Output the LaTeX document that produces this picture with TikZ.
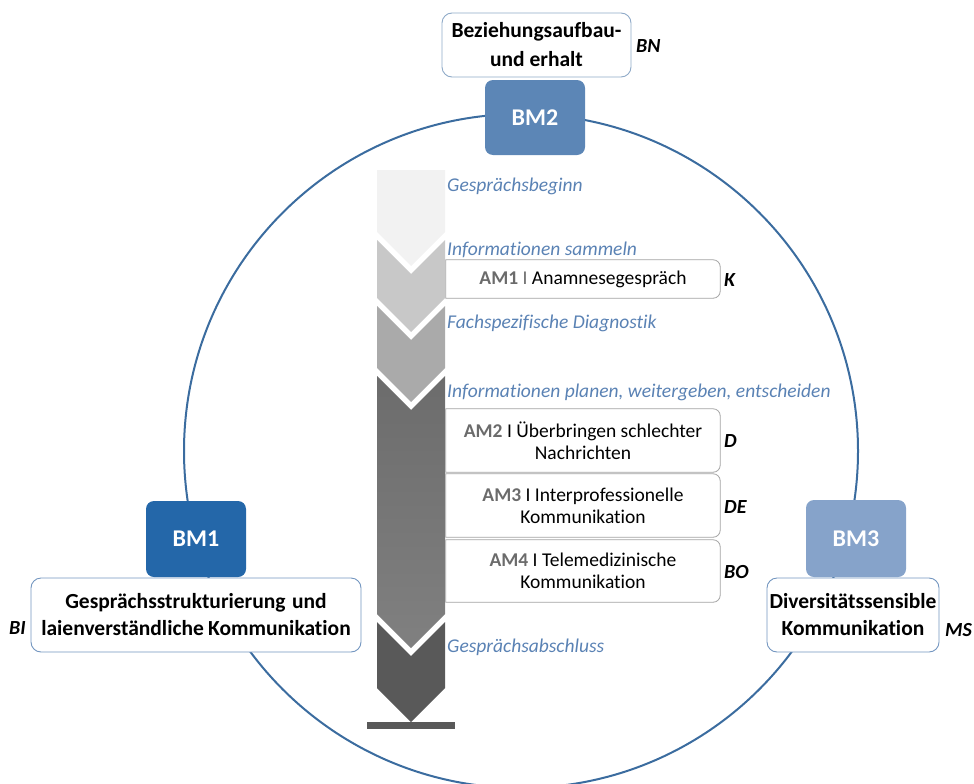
\documentclass[tikz,border=0pt]{standalone}
\usepackage{fontspec}
\setmainfont{Carlito}[Ligatures=NoCommon]
\definecolor{ringblue}{HTML}{3B6C9F}
\definecolor{bmone}{HTML}{2467A9}
\definecolor{bmtwo}{HTML}{5C86B6}
\definecolor{bmthree}{HTML}{86A3CA}
\definecolor{topedge}{HTML}{8FAAC8}
\definecolor{boxedge}{HTML}{7396C0}
\definecolor{amedge}{HTML}{A3A3A3}
\definecolor{phaseblue}{HTML}{5A82B4}
\definecolor{amgrey}{HTML}{6B6B6B}
\definecolor{segA}{HTML}{F2F2F2}
\definecolor{segB}{HTML}{C8C8C8}
\definecolor{segC}{HTML}{AAAAAA}
\definecolor{segDtop}{HTML}{6C6C6C}
\definecolor{segDbot}{HTML}{808080}
\definecolor{segE}{HTML}{595959}
\begin{document}
\begin{tikzpicture}[x=1pt,y=-1pt,
  bmbox/.style={rounded corners=8pt, minimum width=100pt, inner sep=0pt,
    text=white, font=\fontsize{24}{28}\selectfont\bfseries},
  topicbox/.style={draw=boxedge, line width=0.9pt, fill=white, rounded corners=10pt,
    inner sep=0pt, align=center, font=\fontsize{21.5}{27}\selectfont\bfseries},
  phase/.style={anchor=west, inner sep=0pt, text=phaseblue,
    font=\fontsize{19.5}{23}\selectfont\itshape},
  ambox/.style={inner sep=0pt, minimum width=274pt, align=center,
    font=\fontsize{19.5}{22}\selectfont},
  amframe/.style={draw=amedge, line width=0.8pt},
  code/.style={inner sep=0pt, font=\fontsize{20}{23}\selectfont\bfseries\itshape},
  ring/.style={draw=ringblue, line width=2pt}]
\useasboundingbox (0,0) rectangle (974,784);

% outer ring
\draw[ring] (521,451) circle[radius=337pt];

% phase column built from stacked chevrons
\fill[segA] (377,170) -- (445,170) -- (445,232) -- (411,266) -- (377,232) -- cycle;
\fill[segB] (377,240) -- (411,274) -- (445,240) -- (445,298) -- (411,332) -- (377,298) -- cycle;
\fill[segC] (377,306) -- (411,340) -- (445,306) -- (445,368) -- (411,402) -- (377,368) -- cycle;
\shade[top color=segDtop, bottom color=segDbot]
  (377,376) -- (411,410) -- (445,376) -- (445,614) -- (411,648) -- (377,614) -- cycle;
\fill[segE] (377,622) -- (411,656) -- (445,622) -- (445,688) -- (411,722) -- (377,688) -- cycle;
\fill[segE] (367,722) rectangle (455,729);

% phase captions
\node[phase] (p1) at (447,186) {Gesprächsbeginn};
\node[phase] (p2) at (447,250) {Informationen sammeln};
\node[phase] (p3) at (447,323) {Fachspezifische Diagnostik};
\node[phase] (p4) at (447,392) {Informationen planen, weitergeben, entscheiden};
\node[phase] (p5) at (447,647) {Gesprächsabschluss};

% application modules
\node[ambox, minimum height=38pt] (am1) at (583,279)
  {{\color{amgrey}\bfseries AM1} {\color{amgrey}I} Anamnesegespräch};
\node[ambox, minimum height=63pt] (am2) at (583,440.5)
  {{\color{amgrey}\bfseries AM2} I Überbringen schlechter\\Nachrichten};
\node[ambox, minimum height=63pt] (am3) at (583,505.5)
  {{\color{amgrey}\bfseries AM3} I Interprofessionelle\\Kommunikation};
\node[ambox, minimum height=62pt] (am4) at (583,571)
  {{\color{amgrey}\bfseries AM4} I Telemedizinische\\Kommunikation};
\foreach \b in {am1,am2,am3,am4}{
  \draw[amframe] (\b.south west) -- (\b.north west)
    -- ([xshift=-7pt]\b.north east) arc[start angle=90, end angle=0, radius=7pt]
    -- ([yshift=7pt]\b.south east) arc[start angle=0, end angle=-90, radius=7pt]
    -- cycle;
}
\node[code, anchor=west] (k)  at (724,280) {K};
\node[code, anchor=west] (d)  at (724,441) {D};
\node[code, anchor=west] (de) at (724,507) {DE};
\node[code, anchor=west] (bo) at (724,572) {BO};

% basic modules with their topics
\node[topicbox, draw=topedge, minimum width=189pt, minimum height=64pt,
  font=\fontsize{21.5}{29}\selectfont\bfseries] (rel) at (536.5,45)
  {Beziehungsaufbau-\\und erhalt};
\node[code, anchor=west] (bn) at (636,46) {BN};
\node[bmbox, fill=bmtwo, minimum height=75pt] (bm2) at (535,117.5) {BM2};

\node[bmbox, fill=bmone, minimum height=76pt] (bm1) at (196,539) {BM1};
\node[topicbox, minimum width=330pt, minimum height=74pt] (struct) at (196,615)
  {Gesprächsstrukturierung\hspace{0.3em}und\\laienverständliche\hspace{0.2em}Kommunikation};
\node[code, anchor=west] (bi) at (9,628) {BI};

\node[bmbox, fill=bmthree, minimum height=77pt] (bm3) at (856,538.5) {BM3};
\node[topicbox, minimum width=172pt, minimum height=74pt] (div) at (853,615)
  {Diversitätssensible\\Kommunikation};
\node[code, anchor=west] (ms) at (945,630) {MS};
\end{tikzpicture}
\end{document}
